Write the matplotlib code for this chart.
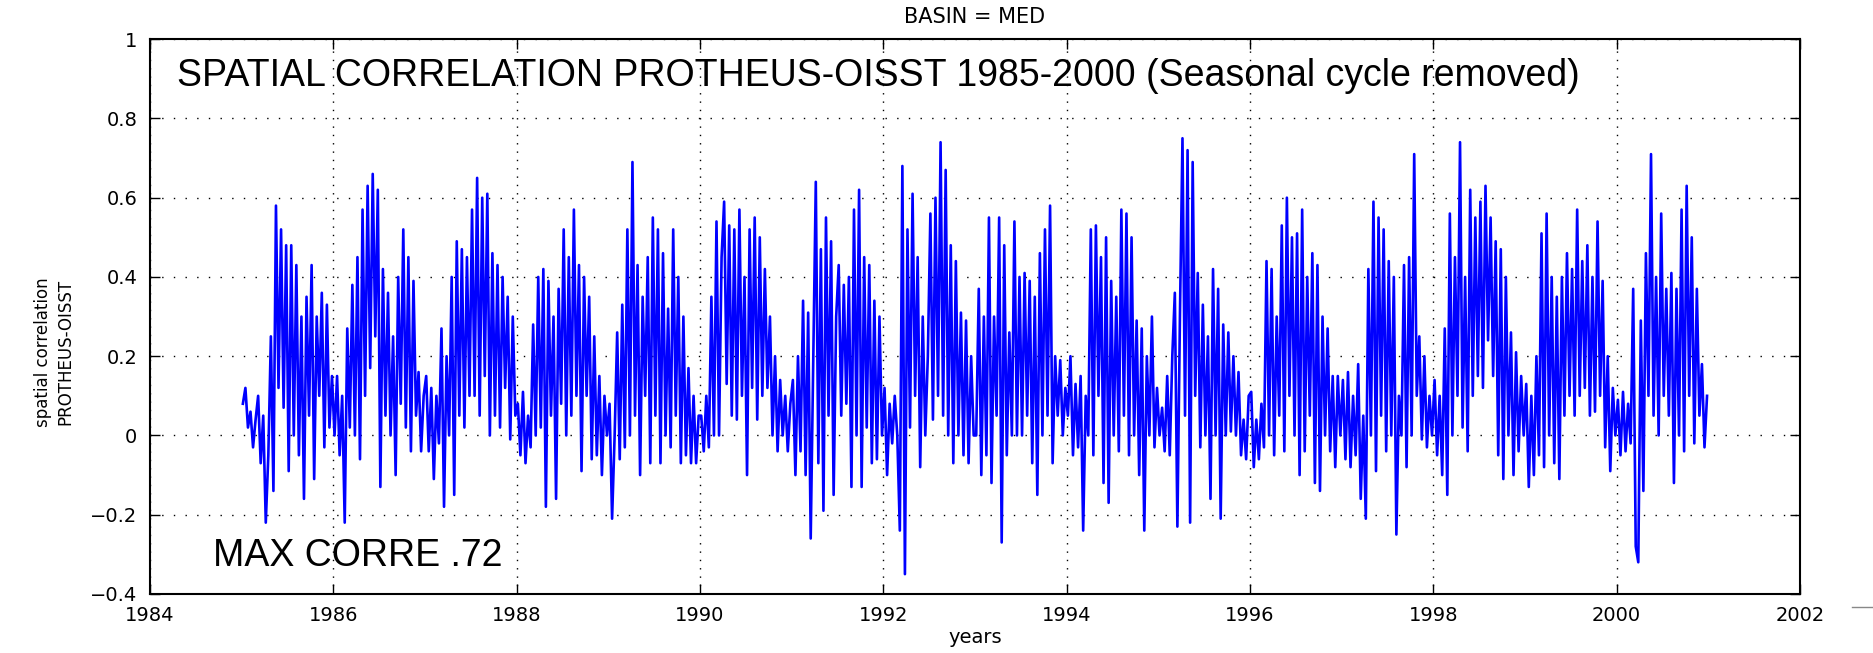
import numpy as np
import matplotlib
matplotlib.use("Agg")
import matplotlib.pyplot as plt
from matplotlib.lines import Line2D

# valores: 3 por mes (aprox. a cada 10 dias), um vetor por ano
y1985 = [0.08, 0.12, 0.02, 0.06, -0.03, 0.04, 0.10, -0.07, 0.05, -0.22, -0.05, 0.25,
         -0.14, 0.58, 0.12, 0.52, 0.07, 0.48, -0.09, 0.48, 0.00, 0.43, -0.05, 0.30,
         -0.16, 0.35, 0.05, 0.43, -0.11, 0.30, 0.10, 0.36, -0.03, 0.33, 0.02, 0.15]
y1986 = [0.00, 0.15, -0.05, 0.10, -0.22, 0.27, 0.02, 0.38, 0.00, 0.45, -0.06, 0.57,
         0.10, 0.63, 0.17, 0.66, 0.25, 0.62, -0.13, 0.42, 0.05, 0.36, 0.00, 0.25,
         -0.10, 0.40, 0.08, 0.52, 0.02, 0.45, -0.04, 0.39, 0.05, 0.16, -0.04, 0.10]
y1987 = [0.15, -0.04, 0.12, -0.11, 0.10, -0.02, 0.27, -0.18, 0.20, 0.00, 0.40, -0.15,
         0.49, 0.05, 0.47, 0.02, 0.45, 0.10, 0.57, 0.10, 0.65, 0.05, 0.60, 0.15,
         0.61, 0.00, 0.46, 0.05, 0.43, 0.02, 0.40, 0.12, 0.35, -0.01, 0.30, 0.05]
y1988 = [0.08, -0.05, 0.11, -0.07, 0.05, -0.03, 0.28, 0.00, 0.40, 0.02, 0.42, -0.18,
         0.39, 0.05, 0.30, -0.16, 0.37, 0.08, 0.52, 0.00, 0.45, 0.05, 0.57, 0.10,
         0.43, -0.09, 0.40, 0.10, 0.35, -0.06, 0.25, -0.05, 0.15, -0.10, 0.10, 0.00]
y1989 = [0.08, -0.21, 0.00, 0.26, -0.06, 0.33, -0.03, 0.52, 0.00, 0.69, 0.05, 0.43,
         -0.10, 0.35, 0.10, 0.45, -0.07, 0.55, 0.05, 0.52, -0.07, 0.46, 0.00, 0.32,
         -0.03, 0.52, 0.05, 0.40, -0.07, 0.30, -0.05, 0.17, -0.07, 0.10, -0.07, 0.05]
y1990 = [0.05, -0.04, 0.10, -0.03, 0.35, 0.00, 0.54, 0.00, 0.45, 0.59, 0.13, 0.53,
         0.05, 0.52, 0.04, 0.57, 0.10, 0.40, -0.10, 0.52, 0.12, 0.55, 0.04, 0.50,
         0.10, 0.42, 0.12, 0.30, 0.00, 0.20, -0.04, 0.14, 0.00, 0.10, -0.04, 0.08]
y1991 = [0.14, -0.10, 0.20, -0.04, 0.34, -0.10, 0.31, -0.26, 0.20, 0.64, -0.07, 0.47,
         -0.19, 0.55, 0.05, 0.49, -0.15, 0.30, 0.43, 0.05, 0.38, 0.08, 0.40, -0.13,
         0.57, 0.00, 0.62, -0.13, 0.45, 0.02, 0.43, -0.07, 0.34, -0.06, 0.30, 0.00]
y1992 = [0.12, -0.10, 0.08, -0.02, 0.10, 0.00, -0.24, 0.68, -0.35, 0.52, 0.02, 0.61,
         0.10, 0.45, -0.08, 0.30, 0.00, 0.20, 0.56, 0.04, 0.60, 0.10, 0.74, 0.05,
         0.67, 0.00, 0.48, -0.07, 0.44, 0.00, 0.31, -0.05, 0.29, -0.07, 0.20, 0.00]
y1993 = [0.00, 0.37, -0.10, 0.30, -0.05, 0.55, -0.12, 0.30, 0.05, 0.55, -0.27, 0.48,
         -0.05, 0.26, 0.00, 0.54, 0.00, 0.40, 0.00, 0.41, 0.05, 0.39, -0.07, 0.35,
         -0.15, 0.46, 0.00, 0.52, 0.05, 0.58, -0.07, 0.20, 0.05, 0.19, 0.00, 0.12]
y1994 = [0.05, 0.20, -0.05, 0.13, -0.03, 0.15, -0.24, 0.10, 0.00, 0.52, -0.05, 0.53,
         0.10, 0.45, -0.12, 0.50, -0.17, 0.39, 0.00, 0.35, -0.04, 0.57, 0.05, 0.56,
         -0.05, 0.50, 0.00, 0.29, -0.10, 0.27, -0.24, 0.20, 0.00, 0.30, -0.03, 0.12]
y1995 = [0.00, 0.07, -0.04, 0.15, -0.05, 0.20, 0.36, -0.23, 0.30, 0.75, 0.05, 0.72,
         -0.22, 0.69, 0.10, 0.41, -0.03, 0.33, 0.00, 0.25, -0.16, 0.42, 0.00, 0.37,
         -0.21, 0.28, 0.00, 0.26, 0.01, 0.20, 0.00, 0.16, -0.05, 0.04, -0.06, 0.10]
y1996 = [0.11, -0.08, 0.04, -0.06, 0.08, -0.03, 0.44, 0.00, 0.42, -0.05, 0.30, 0.05,
         0.53, -0.04, 0.60, 0.10, 0.50, 0.00, 0.51, -0.10, 0.57, -0.04, 0.40, 0.05,
         0.46, -0.12, 0.43, -0.14, 0.30, 0.00, 0.27, -0.04, 0.15, -0.08, 0.15, 0.00]
y1997 = [0.14, -0.06, 0.16, -0.08, 0.10, -0.05, 0.18, -0.16, 0.05, -0.21, 0.42, 0.00,
         0.59, -0.09, 0.55, 0.05, 0.52, -0.04, 0.44, 0.00, 0.40, -0.25, 0.10, 0.00,
         0.43, -0.08, 0.45, 0.00, 0.71, 0.10, 0.25, -0.01, 0.20, -0.03, 0.10, 0.00]
y1998 = [0.14, -0.05, 0.10, -0.10, 0.27, -0.15, 0.56, 0.00, 0.45, 0.10, 0.74, 0.02,
         0.40, -0.04, 0.62, 0.10, 0.55, 0.15, 0.59, 0.12, 0.63, 0.24, 0.55, 0.15,
         0.49, -0.05, 0.47, -0.11, 0.40, 0.00, 0.26, -0.10, 0.21, -0.04, 0.15, 0.00]
y1999 = [0.13, -0.13, 0.10, -0.10, 0.20, -0.05, 0.51, -0.08, 0.56, 0.00, 0.40, -0.07,
         0.35, -0.11, 0.40, 0.05, 0.46, 0.10, 0.42, 0.05, 0.57, 0.10, 0.44, 0.12,
         0.48, 0.05, 0.40, 0.06, 0.54, 0.10, 0.39, -0.03, 0.20, -0.09, 0.12, 0.00]
y2000 = [0.09, -0.05, 0.11, -0.04, 0.08, -0.02, 0.37, -0.28, -0.32, 0.29, -0.14, 0.46,
         0.10, 0.71, 0.05, 0.40, 0.00, 0.56, 0.10, 0.37, 0.05, 0.41, -0.12, 0.37,
         0.00, 0.57, -0.04, 0.63, 0.10, 0.50, -0.02, 0.37, 0.05, 0.18, -0.03, 0.10]

anos = list(range(1985, 2001))
series = [y1985, y1986, y1987, y1988, y1989, y1990, y1991, y1992,
          y1993, y1994, y1995, y1996, y1997, y1998, y1999, y2000]

xticks = list(range(1984, 2003, 2))
yticks = [-0.4, -0.2, 0, 0.2, 0.4, 0.6, 0.8, 1]
ytick_labels = ['\u22120.4', '\u22120.2', '0', '0.2', '0.4', '0.6', '0.8', '1']

tempo = []
valores = []
for ano, vals in zip(anos, series):
    n = len(vals)
    tempo.extend(ano + (np.arange(n) + 0.5) / n)
    valores.extend(vals)

fig = plt.figure(figsize=(18.74, 6.53), dpi=100)
ax = fig.add_axes([0.080, 0.0904, 0.8805, 0.8496])

ax.plot(tempo, valores, color='#0000ff', linewidth=1.9)

ax.set_xlim(1984, 2002)
ax.set_ylim(-0.4, 1)
ax.set_xticks(xticks)
ax.set_xticklabels([str(x) for x in xticks])
ax.set_yticks(yticks)
ax.set_yticklabels(ytick_labels)

ax.tick_params(direction='in', length=7, width=1.0, top=True, right=True,
               labelsize=14, pad=9)
for lab in ax.get_xticklabels() + ax.get_yticklabels():
    lab.set_family('DejaVu Sans')
for s in ax.spines.values():
    s.set_linewidth(1.5)

ax.grid(axis='x', color='black', linestyle=(0, (1, 5)), linewidth=1.0)
ax.grid(axis='y', color='black', linestyle=(0, (1, 7.4)), linewidth=1.0)

ax.set_title('BASIN = MED', fontsize=15, family='DejaVu Sans', pad=12)
ax.set_xlabel('years', fontsize=14, family='DejaVu Sans', labelpad=2)
fig.text(0.029, 0.461, 'spatial correlation\nPROTHEUS-OISST', rotation=90,
         ha='center', va='center', multialignment='center', fontsize=12,
         family='DejaVu Sans', linespacing=1.3)

ax.text(0.0164, 0.933, 'SPATIAL CORRELATION PROTHEUS-OISST 1985-2000 (Seasonal cycle removed)',
        transform=ax.transAxes, fontsize=27.0, family='Liberation Sans',
        ha='left', va='center')
ax.text(0.038, 0.068, 'MAX CORRE .72', transform=ax.transAxes, fontsize=27.0,
        family='Liberation Sans', ha='left', va='center')

fig.add_artist(Line2D([1852 / 1874, 1.0], [1 - 607 / 653, 1 - 607 / 653],
                      color='#888888', linewidth=1.0, transform=fig.transFigure))

fig.savefig('out.png', dpi=100)
